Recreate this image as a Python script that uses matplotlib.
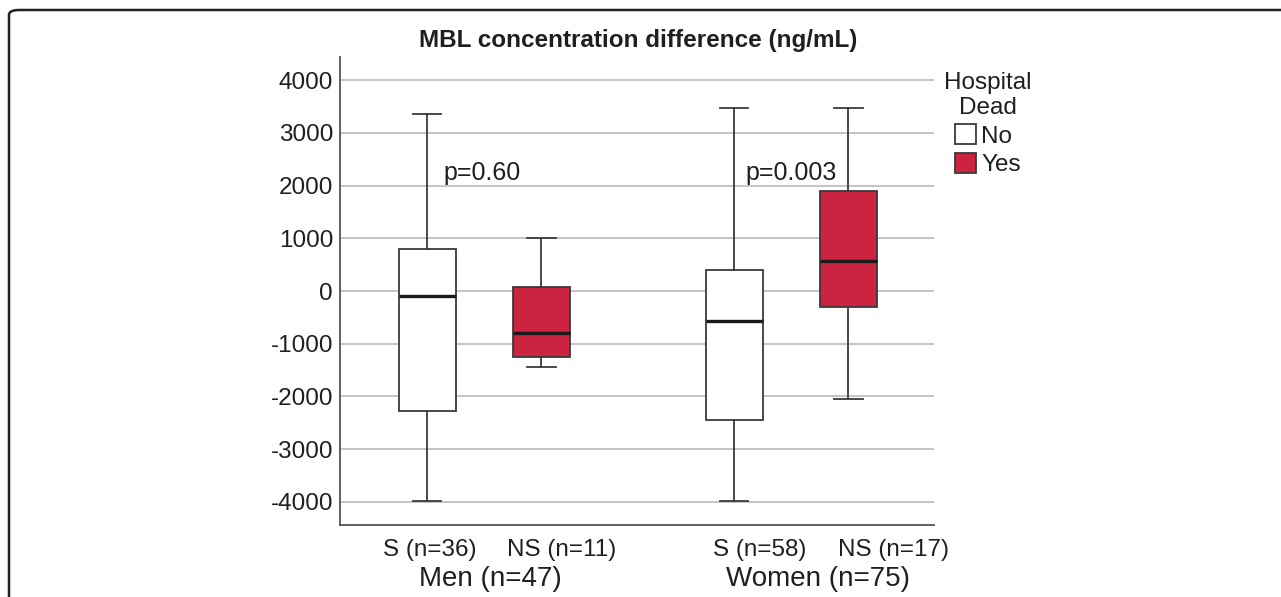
import matplotlib
matplotlib.use("Agg")
from matplotlib import pyplot as plt
from matplotlib.patches import FancyBboxPatch, Patch

plt.rcParams['font.family'] = ['Liberation Sans', 'DejaVu Sans']
plt.rcParams['axes.unicode_minus'] = False

# values (ng/mL)
groups = ["S (n=36)", "NS (n=11)", "S (n=58)", "NS (n=17)"]
dead = [False, True, False, True]
whisker_low = [-3980, -1440, -3980, -2050]
q1 = [-2280, -1255, -2440, -300]
median = [-100, -795, -570, 570]
q3 = [800, 75, 400, 1895]
whisker_high = [3350, 1000, 3470, 3480]
positions = [1, 2, 3.69, 4.69]
sex_labels = ["Men (n=47)", "Women (n=75)"]
p_values = ["p=0.60", "p=0.003"]

red = "#cc2340"
edge = "#3a3a3a"
txt = "#1f1f1f"

fig = plt.figure(figsize=(12.81, 5.97), dpi=100)
ax = fig.add_axes([340 / 1281, 1 - 525 / 597, 594 / 1281, 468 / 597])

stats = []
for i in range(len(groups)):
    stats.append(dict(whislo=whisker_low[i], q1=q1[i], med=median[i], q3=q3[i],
                      whishi=whisker_high[i], fliers=[], label=groups[i]))

bp = ax.bxp(stats, positions=positions, widths=0.5, patch_artist=True, showfliers=False,
            boxprops=dict(edgecolor=edge, linewidth=1.3),
            whiskerprops=dict(color=edge, linewidth=1.3),
            capprops=dict(color=edge, linewidth=1.3),
            medianprops=dict(color="#1a1a1a", linewidth=2.4),
            capwidths=0.25, zorder=3)
for box, d in zip(bp['boxes'], dead):
    box.set_facecolor(red if d else "white")

ax.set_xlim(0.237, 5.44)
ax.set_ylim(-4440, 4440)
ax.set_yticks(range(-4000, 4001, 1000))
ax.tick_params(axis='y', length=0, labelsize=17.5, pad=5, labelcolor=txt)
ax.set_xticks([])
ax.yaxis.grid(True, color="#c4c4c4", linewidth=1.4)
ax.set_axisbelow(True)
for s in ["top", "right"]:
    ax.spines[s].set_visible(False)
for s in ["left", "bottom"]:
    ax.spines[s].set_color("#555555")
    ax.spines[s].set_linewidth(1.3)

# category labels (pixel placement like the original layout)
label_x = [430, 562, 760, 893]
for lab, x in zip(groups, label_x):
    fig.text(x / 1281, 1 - 550 / 597, lab, ha="center", va="center", fontsize=17.5, color=txt)
for lab, x in zip(sex_labels, [490, 818]):
    fig.text(x / 1281, 1 - 579 / 597, lab, ha="center", va="center", fontsize=20, color=txt)

ax.text(1.14, 2230, p_values[0], ha="left", va="center", fontsize=18, color=txt)
ax.text(3.79, 2230, p_values[1], ha="left", va="center", fontsize=18, color=txt)

fig.text(638 / 1281, 1 - 40 / 597, "MBL concentration difference (ng/mL)",
         ha="center", va="center", fontsize=17.5, fontweight="bold", color=txt)

# legend
handles = [Patch(facecolor="white", edgecolor=edge, linewidth=1.3, label="No"),
           Patch(facecolor=red, edgecolor=edge, linewidth=1.3, label="Yes")]
leg = fig.legend(handles=handles, title="Hospital\nDead", loc="upper left",
                 bbox_to_anchor=(927 / 1281, 1 - 55 / 597), frameon=False,
                 fontsize=17.5, title_fontsize=17.5, handlelength=0.9, handleheight=0.9,
                 handletextpad=0.2, labelspacing=0.2, borderpad=0.2, alignment="center")
leg.get_title().set_color(txt)
leg.get_title().set_multialignment("center")
for t in leg.get_texts():
    t.set_color(txt)

# rounded frame around the figure
frame = FancyBboxPatch((9 / 1281, -0.2), 1.2, 1 - 10 / 597 + 0.2,
                       boxstyle="round,pad=0,rounding_size=0.008",
                       transform=fig.transFigure, fill=False, edgecolor="#222222",
                       linewidth=1.8, clip_on=False)
fig.patches.append(frame)

fig.savefig("out.png", dpi=100)
